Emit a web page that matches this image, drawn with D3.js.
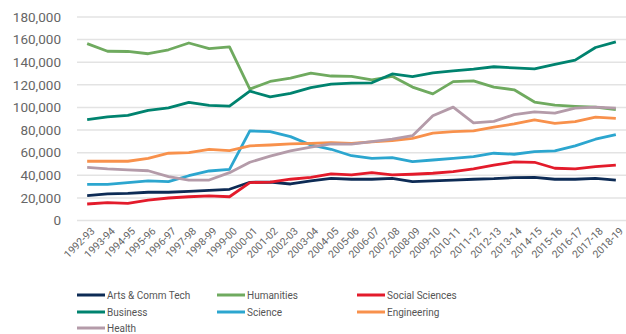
<!DOCTYPE html>
<html>
<head>
<meta charset="utf-8">
<script src="https://cdn.jsdelivr.net/npm/d3@7"></script>
<style>
  html, body { margin: 0; padding: 0; background: #fff; }
  svg { display: block; font-family: Roboto, "Noto Sans", sans-serif; }
</style>
</head>
<body>
<svg id="chart" width="626" height="334"></svg>
<script>
// Academic years on the x axis
const years = ["1992-93","1993-94","1994-95","1995-96","1996-97","1997-98","1998-99","1999-00",
  "2000-01","2001-02","2002-03","2003-04","2004-05","2005-06","2006-07","2007-08","2008-09",
  "2009-10","2010-11","2011-12","2012-13","2013-14","2014-15","2015-16","2016-17","2017-18","2018-19"];

// Enrolment by field of study
const artsCommTech = [22000,23500,24000,25000,25000,25800,26700,27600,33800,34000,32300,35000,37300,36500,36500,37300,34300,35000,35800,36500,37000,37900,38200,36500,36500,37300,35800];
const humanities = [156400,149700,149500,147500,151000,157000,152000,153500,116200,123000,126000,130400,127800,127500,124300,127500,118000,112000,122800,123500,118000,115600,104800,102000,101000,100200,98000];
const socialSciences = [14600,15800,15200,18100,19900,21000,21700,21000,33500,34000,36500,38200,41200,40300,42300,40300,40900,41800,43200,45600,49000,51800,51500,46200,45600,47600,49000];
const business = [89200,91700,92900,97400,99700,104400,101800,101200,114400,109300,112500,117600,120600,121500,121800,129600,127300,130500,132300,133900,136000,135000,134200,138000,141900,153000,158000];
const science = [32000,32000,33500,35000,34400,39600,43800,45300,79200,78600,74200,66800,63000,57300,55000,55600,52000,53500,55000,56500,59500,58600,60900,61500,66000,71900,76000];
const engineering = [52400,52400,52400,55000,59500,60000,63000,61800,66000,66800,67700,68300,68900,68300,69500,70600,72700,77200,78600,79200,82500,85400,89000,86000,87500,91400,90300];
const health = [47000,45600,44700,44000,38800,35800,35800,42300,51500,57000,61500,64800,67700,67500,69700,71900,75000,92600,100300,86300,87700,93600,96000,95000,99400,100300,99400];

const yTicks = [0,20000,40000,60000,80000,100000,120000,140000,160000,180000];

const series = [
  { name: "Arts & Comm Tech", values: artsCommTech, color: "#0d2b55" },
  { name: "Humanities", values: humanities, color: "#6faa5f" },
  { name: "Social Sciences", values: socialSciences, color: "#e31b2b" },
  { name: "Business", values: business, color: "#00836f" },
  { name: "Science", values: science, color: "#2ca6cf" },
  { name: "Engineering", values: engineering, color: "#f8914c" },
  { name: "Health", values: health, color: "#b49ba9" }
];

const svg = d3.select("#chart");
const plot = { left: 77, right: 626, top: 17, bottom: 220.5 };

const x = d3.scaleBand().domain(years).range([plot.left, plot.right]);
const y = d3.scaleLinear().domain([0, 180000]).range([plot.bottom, plot.top]);
const cx = d => x(d) + x.bandwidth() / 2;

// Horizontal grid
svg.append("g")
  .selectAll("line")
  .data(yTicks)
  .join("line")
  .attr("x1", plot.left).attr("x2", plot.right)
  .attr("y1", d => y(d)).attr("y2", d => y(d))
  .attr("stroke", "#e3e3e3").attr("stroke-width", 1.5);

// Y axis labels
const yAxis = svg.append("g")
  .attr("transform", `translate(${plot.left - 16},0)`)
  .call(d3.axisLeft(y).tickValues(yTicks).tickSize(0).tickPadding(0).tickFormat(d3.format(",")));
yAxis.select(".domain").remove();
yAxis.selectAll("text")
  .attr("fill", "#666").attr("font-size", "13.5px").attr("font-family", "Roboto, sans-serif");

// X axis labels, rotated
const xAxis = svg.append("g")
  .attr("transform", `translate(0,${plot.bottom + 6})`)
  .call(d3.axisBottom(x).tickSize(0).tickPadding(0));
xAxis.select(".domain").remove();
xAxis.selectAll("text")
  .attr("fill", "#666").attr("font-size", "10.5px").attr("font-family", "Roboto, sans-serif")
  .attr("text-anchor", "end")
  .attr("dy", "0.7em")
  .attr("transform", "translate(3,0) rotate(-45)");

// Lines
const line = d3.line()
  .x((d, i) => cx(years[i]))
  .y(d => y(d));

svg.append("g")
  .selectAll("path")
  .data(series)
  .join("path")
  .attr("d", s => line(s.values))
  .attr("fill", "none")
  .attr("stroke", s => s.color)
  .attr("stroke-width", 2.8)
  .attr("stroke-linejoin", "round");

// Legend
const legendCols = [77, 217, 357];
const legendRows = [295, 312, 328];
const legend = svg.append("g")
  .selectAll("g")
  .data(series)
  .join("g")
  .attr("transform", (s, i) => `translate(${legendCols[i % 3]},${legendRows[Math.floor(i / 3)]})`);
legend.append("line")
  .attr("x1", 0).attr("x2", 28).attr("y1", 0).attr("y2", 0)
  .attr("stroke", s => s.color).attr("stroke-width", 3);
legend.append("text")
  .attr("x", 30).attr("y", 0).attr("dy", "0.35em")
  .attr("fill", "#555").attr("font-size", "10px")
  .text(s => s.name);
</script>
</body>
</html>
